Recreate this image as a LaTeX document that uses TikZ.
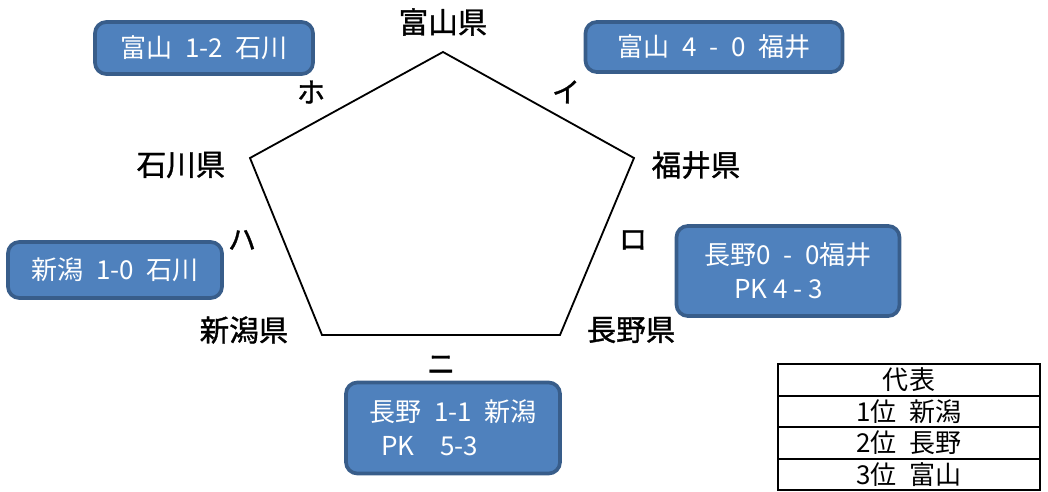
\documentclass[tikz,border=0pt]{standalone}
\usepackage{fontspec}
\setmainfont{Noto Sans CJK JP}
\newfontfamily\labelfont[FakeBold=1.2]{Noto Sans CJK JP}
\usetikzlibrary{positioning}
\definecolor{boxfill}{HTML}{4F81BD}
\definecolor{boxline}{HTML}{385D8A}
\tikzstyle{pref} = [font=\labelfont\fontsize{21}{24}\selectfont]
\tikzstyle{side} = [font=\labelfont\fontsize{20}{24}\selectfont]
\tikzstyle{result} = [rectangle,rounded corners=8pt,draw=boxline,line width=2.6pt,fill=boxfill,text=white,font=\fontsize{18.5}{24}\selectfont,inner sep=0pt]
\tikzstyle{row} = [rectangle,draw=black,line width=1.3pt,minimum width=6.55cm,minimum height=0.7875cm,inner sep=0pt,outer sep=0pt,font=\fontsize{18.5}{20}\selectfont]

\begin{document}
\begin{tikzpicture}[x=0.025cm,y=-0.025cm]
\useasboundingbox (0,0) rectangle (1048,492);

% pentagon
\coordinate (toyama) at (443,52);
\coordinate (fukui) at (634,158);
\coordinate (nagano) at (560,335);
\coordinate (niigata) at (322,335);
\coordinate (ishikawa) at (250,158);
\draw [line width=1.3pt] (toyama) -- (fukui) -- (nagano) -- (niigata) -- (ishikawa) -- cycle;

\node (lToyama) [pref] at (443,22) {富山県};
\node (lFukui) [pref] at (696,165) {福井県};
\node (lNagano) [pref] at (631,330) {長野県};
\node (lNiigata) [pref] at (244,330) {新潟県};
\node (lIshikawa) [pref] at (181,165) {石川県};

\node (sHo) [side] at (311,92) {ホ};
\node (sI) [side] at (566,92) {イ};
\node (sRo) [side] at (633,240) {ロ};
\node (sNi) [side] at (441,365) {ニ};
\node (sHa) [side] at (242,240) {ハ};

% results
\node (gHo) [result,minimum width=218*0.025cm,minimum height=52*0.025cm] at (204,48) {富山\enspace 1-2\enspace 石川\hspace{0.45cm}};
\node (gI) [result,minimum width=257*0.025cm,minimum height=50*0.025cm] at (714,47) {富山\enspace 4\enspace -\enspace 0\enspace 福井\hspace{1.1cm}};
\node (gRo) [result,minimum width=223*0.025cm,minimum height=90*0.025cm,align=left] at (788,271) {長野0\enspace -\enspace 0福井\\\hspace{0.75cm}PK 4 - 3};
\node (gNi) [result,minimum width=214*0.025cm,minimum height=91*0.025cm,align=left] at (453,428) {長野\enspace 1-1\enspace 新潟\\\hspace{0.3cm}PK\enspace\enspace 5-3\hspace{2cm}};
\node (gHa) [result,minimum width=214*0.025cm,minimum height=56*0.025cm] at (115,270) {新潟\enspace 1-0\enspace 石川\hspace{0.35cm}};

% ranking table
\node (rHead) [row] at (909,380) {代表};
\node (rFirst) [row,below=0pt of rHead] {1位\enspace 新潟};
\node (rSecond) [row,below=0pt of rFirst] {2位\enspace 長野};
\node (rThird) [row,below=0pt of rSecond] {3位\enspace 富山};

\end{tikzpicture}
\end{document}
